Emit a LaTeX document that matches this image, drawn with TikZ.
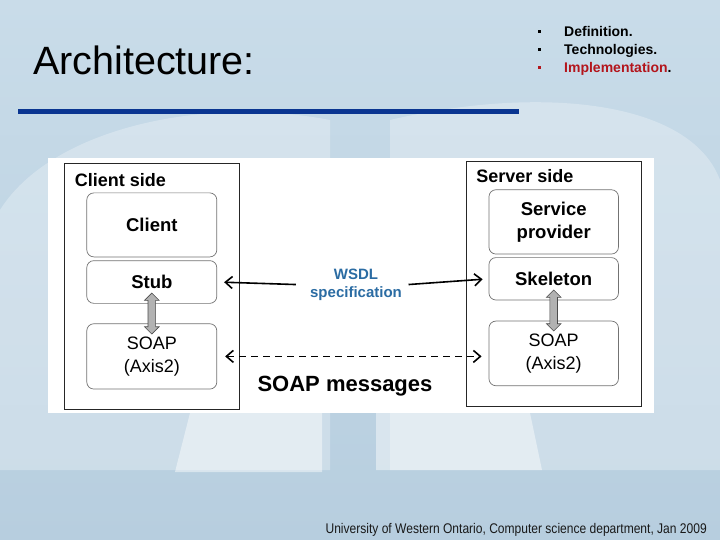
\documentclass[tikz,border=0pt]{standalone}
\usepackage{fontspec}
\setmainfont{Liberation Sans}
\newfontfamily\footfont[FakeStretch=0.86]{Liberation Sans}
\usetikzlibrary{positioning, calc, shapes.arrows, arrows.meta}

\definecolor{bgtop}{HTML}{C9DCE9}
\definecolor{bgmid}{HTML}{D6E6EF}
\definecolor{bgbot}{HTML}{B7CEDF}
\definecolor{ruleblue}{HTML}{0A3591}
\definecolor{implred}{HTML}{B3151C}
\definecolor{wsdlblue}{HTML}{2B6CA3}

\begin{document}
\begin{tikzpicture}[x=1pt, y=-1pt,
    side/.style={draw=black!85, line width=0.8pt, fill=white, inner sep=0pt},
    part/.style={draw=black!55, line width=0.7pt, rounded corners=7pt,
        minimum width=130pt, inner sep=0pt, align=center},
    boldlbl/.style={font=\fontsize{18.5}{23}\selectfont\bfseries},
    plainlbl/.style={font=\fontsize{18}{22.5}\selectfont},
    sidelbl/.style={font=\fontsize{18}{22}\selectfont\bfseries, inner sep=0pt},
    updown/.style={double arrow, rotate=90, minimum height=41pt,
        inner xsep=0pt, inner ysep=3.5pt, double arrow head extend=3.5pt,
        fill=gray!60, draw=gray!60!black, line width=0.6pt},
    barb/.style={line width=1.6pt, -{Straight Barb[length=7pt,width=12pt]}},
    bullet/.style={fill=#1, minimum size=3pt, inner sep=0pt}
]
\useasboundingbox (0,0) rectangle (720,540);

% slide background
\shade[top color=bgtop, middle color=bgmid, bottom color=bgbot] (0,0) rectangle (720,540);
\fill[white, opacity=0.28] (0,470) -- (0,210) .. controls (50,130) and (200,95) .. (330,120) -- (330,470) -- cycle;
\fill[white, opacity=0.28] (720,470) -- (720,180) .. controls (690,100) and (540,85) .. (390,120) -- (390,470) -- cycle;
\fill[white, opacity=0.45] (175,472) -- (190,413) -- (322,413) -- (322,472) -- cycle;
\fill[white, opacity=0.45] (376,470) -- (376,413) -- (530,413) -- (542,470) -- cycle;

% title
\node[anchor=base west, inner sep=0pt, font=\fontsize{39.5}{44}\selectfont] (title) at (33,75) {Architecture:};
\draw[ruleblue, line width=5pt] (18,111.5) -- (519,111.5);

% topics
\node[bullet=black] (b1) at (539.5,32) {};
\node[bullet=black] (b2) at (539.5,50) {};
\node[bullet=implred] (b3) at (539.5,68) {};
\node[anchor=base west, inner sep=0pt, font=\fontsize{14}{16}\selectfont\bfseries] (t1) at (564,37) {Definition.};
\node[anchor=base west, inner sep=0pt, font=\fontsize{14}{16}\selectfont\bfseries] (t2) at (564,55) {Technologies.};
\node[anchor=base west, inner sep=0pt, font=\fontsize{14}{16}\selectfont\bfseries] (t3) at (564,73) {\textcolor{implred}{Implementation}.};

% diagram panel
\fill[white] (48,158) rectangle (654,413);

\node[side, minimum width=175pt, minimum height=246pt] (clientside) at (151.5,286.7) {};
\node[side, minimum width=174.5pt, minimum height=245pt] (serverside) at (553.75,283.5) {};
\node[sidelbl, below right=22.8pt and 11pt of clientside.north west, anchor=base west] (clientlbl) {Client side};
\node[sidelbl, below right=22pt and 10pt of serverside.north west, anchor=base west] (serverlbl) {Server side};

% client parts
\node[part, boldlbl, minimum height=64pt] (client) at (151.8,224.9) {Client};
\node[part, boldlbl, minimum height=42.7pt] (stub) at (151.8,282) {Stub};
\node[part, plainlbl, minimum height=65.3pt] (soapC) at (151.8,356.4) {SOAP\\(Axis2)};

% server parts
\node[part, boldlbl, minimum width=129.5pt, minimum height=64.3pt] (provider) at (553.7,221.9) {Service\\provider};
\node[part, boldlbl, minimum width=129.5pt, minimum height=42.4pt] (skeleton) at (553.7,278.8) {Skeleton};
\node[part, plainlbl, minimum width=129.5pt, minimum height=64.7pt] (soapS) at (553.7,353.4) {SOAP\\(Axis2)};

\node[updown] (linkC) at ($(stub.south)!0.5!(soapC.north)$) {};
\node[updown] (linkS) at ($(skeleton.south)!0.5!(soapS.north)$) {};

% WSDL and messages
\node[inner sep=0pt, align=center, text=wsdlblue, font=\fontsize{15}{17.5}\selectfont\bfseries] (wsdl) at (356,285) {WSDL\\specification};
\draw[barb, shorten <=14pt, shorten >=7pt] (wsdl.west) -- (stub.east);
\draw[barb, shorten <=6.5pt, shorten >=6pt] (wsdl.east) -- (skeleton.west);
\draw[line width=1.6pt, dash pattern=on 7pt off 5pt, {Straight Barb[length=7pt,width=12pt]}-{Straight Barb[length=7pt,width=12pt]}, shorten <=8pt, shorten >=7pt] (soapC.east) -- (soapC.east -| soapS.west);
\node[anchor=base, inner sep=0pt, font=\fontsize{22}{26}\selectfont\bfseries] (msgs) at (345,391) {SOAP messages};

% footer
\node[anchor=base east, inner sep=0pt, text=black!90, font=\footfont\fontsize{14}{16}\selectfont] (foot) at (707,533.5) {University of Western Ontario, Computer science department, Jan 2009};
\end{tikzpicture}
\end{document}
